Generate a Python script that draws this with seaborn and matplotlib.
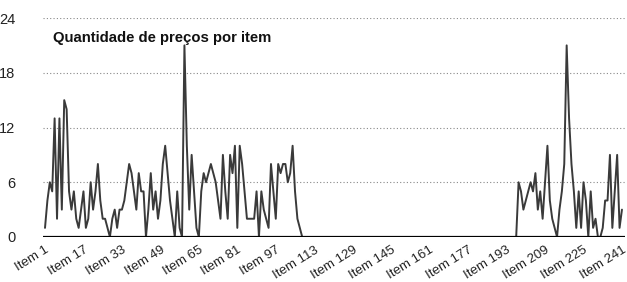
import matplotlib
matplotlib.use("Agg")
import matplotlib.pyplot as plt
import numpy as np
import pandas as pd
import seaborn as sns

sns.set_style("white")
plt.rcParams["font.family"] = ["Liberation Sans", "DejaVu Sans"]

# prices per item (items 1..241)
first_block = [1, 4, 6, 5, 13, 2, 13, 3, 15, 14, 5, 3, 5, 2, 1, 3, 5, 1, 2, 6,
               3, 5, 8, 4, 2, 2, 1, 0, 2, 3, 1, 3, 3, 4, 6, 8, 7, 5, 3, 7,
               5, 5, 0, 3, 7, 3, 5, 2, 4, 8, 10, 7, 4, 2, 0, 5, 1, 0, 21, 10,
               3, 9, 5, 1, 0, 5, 7, 6, 7, 8, 7, 6, 4, 2, 9, 5, 2, 9, 7, 10,
               1, 10, 8, 5, 2, 2, 2, 2, 5, 0, 5, 3, 2, 1, 8, 5, 2, 8, 7, 8,
               8, 6, 7, 10, 5, 2, 1, 0]
empty_block = [0] * 88
last_block = [0, 6, 5, 3, 4, 5, 6, 5, 7, 3, 5, 2, 6, 10, 4, 2, 1, 0, 3, 5,
              8, 21, 13, 8, 5, 1, 5, 1, 6, 4, 0, 5, 1, 2, 0, 0, 1, 4, 4, 9,
              1, 5, 9, 1, 3]
counts = first_block + empty_block + last_block
items = list(range(1, len(counts) + 1))
tick_items = list(range(1, 242, 16))
tick_labels = [f"Item {i}" for i in tick_items]
y_ticks = [0, 6, 12, 18, 24]

df = pd.DataFrame({"item": items, "count": counts})

fig = plt.figure(figsize=(6.27, 2.82), dpi=100)
px = 2.404
ax = fig.add_axes([(45 - 0.8 * px) / 627, 1 - 237 / 282,
                   242 * px / 627, (237 - 18) / 282])

sns.lineplot(data=df, x="item", y="count", ax=ax, color="#3a3a3a", lw=1.4)
ax.axhline(0, color="black", lw=1.6, zorder=3)

ax.set_xlim(0.2, 242.2)
ax.set_ylim(0, 24)
ax.set_yticks(y_ticks)
ax.set_yticklabels([str(v) for v in y_ticks], fontsize=10.5, color="#222222")
ax.set_xticks(tick_items)
ax.set_xticklabels(tick_labels, rotation=32, ha="right", fontsize=9.5,
                   color="#222222", rotation_mode="anchor")
ax.tick_params(axis="y", length=0, pad=20)
ax.tick_params(axis="x", length=0, pad=5)
for v in y_ticks[1:]:
    ax.axhline(v, color="#888888", lw=0.8, ls=(0, (1, 2)), zorder=1)
for s in ["top", "right", "left", "bottom"]:
    ax.spines[s].set_visible(False)
ax.set_xlabel("")
ax.set_ylabel("")

ax.text(53 / 627, 1 - 38 / 282, "Quantidade de preços por item",
        transform=fig.transFigure, fontsize=10.7, fontweight="bold",
        ha="left", va="center", color="#111111")

fig.savefig("out.png", dpi=100)
